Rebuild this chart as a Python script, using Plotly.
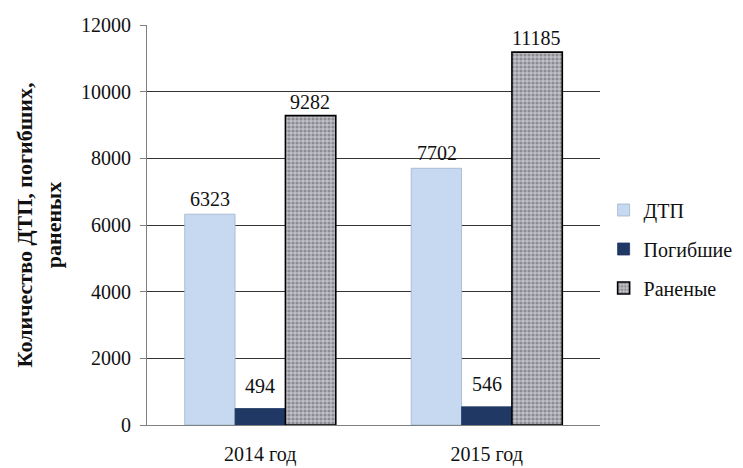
import plotly.graph_objects as go

# Road traffic accidents, deaths and injuries by year
years = ["2014 год", "2015 год"]
accidents = [6323, 7702]
deaths = [494, 546]
injured = [9282, 11185]

series_names = ["ДТП", "Погибшие", "Раненые"]
y_ticks = [0, 2000, 4000, 6000, 8000, 10000, 12000]
y_tick_text = [str(t) for t in y_ticks]

FONT = "Liberation Serif"
TXT = "#111111"
SERIF = dict(family=FONT, size=20, color=TXT)

fig = go.Figure()

fig.add_trace(go.Bar(
    name=series_names[0], x=years, y=accidents,
    marker=dict(color="#c6d9f1", line=dict(color="#9fb2cc", width=0.8)),
))
fig.add_trace(go.Bar(
    name=series_names[1], x=years, y=deaths,
    marker=dict(color="#1f3864", line=dict(color="#1f3864", width=0.8)),
))
fig.add_trace(go.Bar(
    name=series_names[2], x=years, y=injured,
    marker=dict(
        color="#b4b4ba",
        line=dict(color="#000000", width=1.6),
        pattern=dict(shape=".", fgcolor="#55555f", bgcolor="#c0c0c6",
                     size=4, solidity=0.5, fillmode="overlay"),
    ),
))

# Value labels above each bar
label_shift = {0: 2, 1: 10, 2: 1}
for idx, vals in enumerate([accidents, deaths, injured]):
    for yr, v in zip(years, vals):
        fig.add_annotation(
            x=yr, y=v, text=str(v), showarrow=False,
            xref="x", yref="y", yanchor="bottom",
            xshift=(idx - 1) * 50, yshift=label_shift[idx],
            font=SERIF,
            bgcolor="white" if idx == 1 else None,
        )

fig.update_layout(
    width=743, height=468,
    margin=dict(l=147, r=143, t=25, b=43, autoexpand=False),
    paper_bgcolor="white", plot_bgcolor="white",
    barmode="group", bargap=0.333, bargroupgap=0,
    font=SERIF,
    showlegend=True,
    legend=dict(
        x=1.008, y=0.44, xanchor="left", yanchor="middle",
        font=SERIF,
        tracegroupgap=10, itemwidth=30,
    ),
)
for i, tr in enumerate(fig.data):
    tr.legendgroup = f"g{i}"

fig.update_xaxes(
    automargin=False,
    showline=True, linecolor="#808080", linewidth=1,
    ticks="", ticklabelstandoff=11,
    tickfont=SERIF,
)
fig.update_yaxes(
    automargin=False,
    range=[0, 12000], tickvals=y_ticks, ticktext=y_tick_text,
    showline=True, linecolor="#808080", linewidth=1,
    ticks="outside", ticklen=6, tickcolor="#808080",
    ticklabelstandoff=5,
    showgrid=True, gridcolor="#333333", gridwidth=1,
    zeroline=False,
    tickfont=SERIF,
    title=dict(
        text="<b>Количество ДТП, погибших,<br>раненых</b>",
        font=dict(family=FONT, size=22, color=TXT),
        standoff=13,
    ),
)

fig.write_html("out.html")
